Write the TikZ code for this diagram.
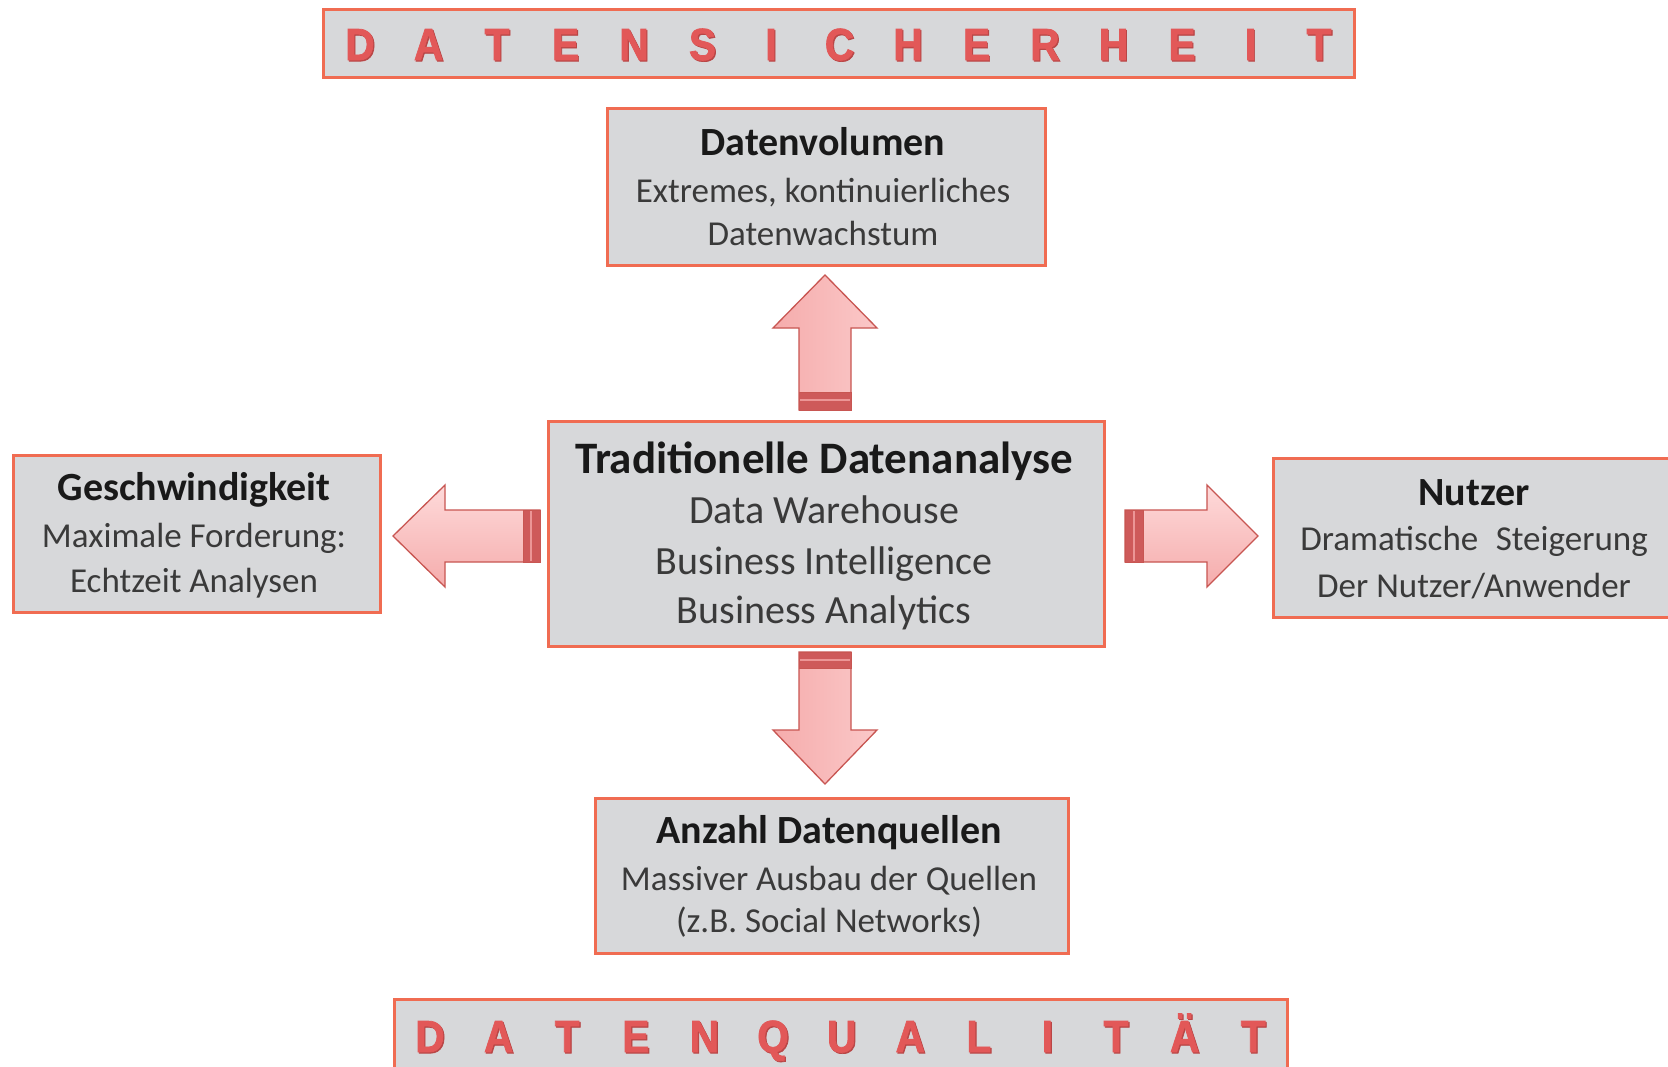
\documentclass[tikz,border=0pt]{standalone}
\usepackage{fontspec}
\setmainfont{Carlito}
\newfontfamily\bannerfont{Liberation Sans}[BoldFeatures={FakeBold=1.6,FakeStretch=0.9}]
\definecolor{boxfill}{RGB}{215,216,218}
\definecolor{boxline}{RGB}{240,108,82}
\definecolor{arrowline}{RGB}{200,86,82}
\definecolor{arrowlight}{RGB}{254,218,218}
\definecolor{arrowmid}{RGB}{251,200,200}
\definecolor{arrowdark}{RGB}{245,172,172}
\definecolor{bandfill}{RGB}{206,90,90}
\definecolor{bandlight}{RGB}{236,150,150}
\definecolor{lettercol}{RGB}{226,88,88}
\definecolor{lettershadow}{RGB}{185,70,70}
\definecolor{titlecol}{RGB}{25,25,25}
\definecolor{subcol}{RGB}{58,58,58}
\tikzset{
  box/.style={draw=boxline, line width=3pt, fill=boxfill, inner sep=0pt, outer sep=0pt},
  ttl/.style={anchor=base, inner sep=0pt, text=titlecol, font=\fontsize{40}{48}\selectfont\bfseries},
  sub/.style={anchor=base, inner sep=0pt, text=subcol, font=\fontsize{35}{42}\selectfont},
  bigttl/.style={ttl, font=\fontsize{45}{54}\selectfont\bfseries},
  bigsub/.style={sub, font=\fontsize{40}{48}\selectfont},
  letter/.style={anchor=base, inner sep=0pt, text=lettercol, font=\bannerfont\bfseries\fontsize{45}{54}\selectfont},
  lshadow/.style={letter, text=lettershadow},
  vblock/.style={draw=arrowline, line width=1.3pt, line join=miter, left color=arrowdark, middle color=arrowlight, right color=arrowmid},
  hblock/.style={draw=arrowline, line width=1.3pt, line join=miter, top color=arrowlight, bottom color=arrowdark},
  band/.style={draw=arrowline, fill=bandfill, line width=1pt},
  bandline/.style={draw=bandlight, line width=2pt},
}
\begin{document}
\begin{tikzpicture}[x=1pt, y=-1pt]
\useasboundingbox[fill=white] (0,0) rectangle (1668,1066);

% banners
\node[box, minimum width=1031, minimum height=68] (topban) at (838.5,43) {};
\node[box, minimum width=893, minimum height=90] (botban) at (840.5,1044) {};
\foreach \l [count=\i from 0] in {D,A,T,E,N,S,I,C,H,E,R,H,E,I,T} {
  \node[lshadow] (tsh\i) at (361.2+68.5*\i, 61.2) {\l};
  \node[letter] (tl\i) at (360+68.5*\i, 60) {\l};
}
\foreach \l [count=\i from 0] in {D,A,T,E,N,Q,U,A,L,I,T,Ä,T} {
  \node[lshadow] (bsh\i) at (431.2+68.6*\i, 1053.2) {\l};
  \node[letter] (bl\i) at (430+68.6*\i, 1052) {\l};
}

% boxes
\node[box, minimum width=438, minimum height=157] (vol) at (826,186.5) {};
\node[box, minimum width=556, minimum height=225] (mid) at (826,533.5) {};
\node[box, minimum width=367, minimum height=157] (gesch) at (196.5,533.5) {};
\node[box, minimum width=417, minimum height=159] (nutz) at (1481.5,537.5) {};
\node[box, minimum width=473, minimum height=155] (anz) at (831.5,875.5) {};

% texts
\node[ttl] (volt) at (823,155) {Datenvolumen};
\node[sub] (vol1) at (823,202) {Extremes, kontinuierliches};
\node[sub] (vol2) at (823,245) {Datenwachstum};

\node[bigttl] (midt) at (824,473) {Traditionelle Datenanalyse};
\node[bigsub] (mid1) at (824,523) {Data Warehouse};
\node[bigsub] (mid2) at (824,574) {Business Intelligence};
\node[bigsub] (mid3) at (824,623) {Business Analytics};

\node[ttl] (gescht) at (194,500) {Geschwindigkeit};
\node[sub] (gesch1) at (194,547) {Maximale Forderung:};
\node[sub] (gesch2) at (194,592) {Echtzeit Analysen};

\node[ttl] (nutzt) at (1474,505) {Nutzer};
\node[sub] (nutz1) at (1474,550) {Dramatische\enspace Steigerung};
\node[sub] (nutz2) at (1474,597) {Der Nutzer/Anwender};

\node[ttl] (anzt) at (829,843) {Anzahl Datenquellen};
\node[sub] (anz1) at (829,890) {Massiver Ausbau der Quellen};
\node[sub] (anz2) at (829,932) {(z.B. Social Networks)};

% block arrows
% up
\draw[vblock] (799,410) -- (799,328) -- (773,328) -- (825,275) -- (877,328) -- (851,328) -- (851,410) -- cycle;
\draw[band] (799,392) rectangle (851,410);
\draw[bandline] (800,400) -- (850,400);
% down
\draw[vblock] (799,652) -- (851,652) -- (851,730) -- (877,730) -- (825,784) -- (773,730) -- (799,730) -- cycle;
\draw[band] (799,652) rectangle (851,668);
\draw[bandline] (800,660) -- (850,660);
% left
\draw[hblock] (540,510) -- (445,510) -- (445,485) -- (393,536) -- (445,587) -- (445,562) -- (540,562) -- cycle;
\draw[band] (523,510) rectangle (540,562);
\draw[bandline] (531,511) -- (531,561);
% right
\draw[hblock] (1125,510) -- (1207,510) -- (1207,485) -- (1258,536) -- (1207,587) -- (1207,562) -- (1125,562) -- cycle;
\draw[band] (1125,510) rectangle (1143,562);
\draw[bandline] (1134,511) -- (1134,561);
\end{tikzpicture}
\end{document}
